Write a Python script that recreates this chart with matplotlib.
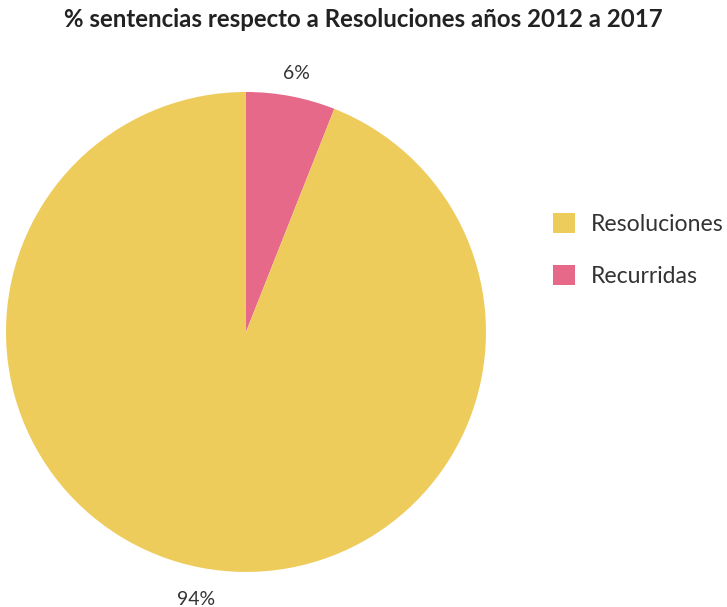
import matplotlib
matplotlib.use("Agg")
import matplotlib.pyplot as plt
from matplotlib.patches import Patch

plt.rcParams['font.family'] = ['Lato', 'DejaVu Sans']

categories = ["Resoluciones", "Recurridas"]
shares = [94, 6]
colors = ["#EECC5C", "#E6698A"]

fig = plt.figure(figsize=(7.27, 6.07), dpi=100)
fig.patch.set_facecolor("white")

ax = fig.add_axes([0.00825, 0.0577, 0.6602, 0.7908])
ax.set_aspect("equal")

# Recurridas first so it starts at 12 o'clock going clockwise
_, _, pct_texts = ax.pie(shares[::-1], colors=colors[::-1], startangle=90,
                         counterclock=False, autopct="%d%%", pctdistance=1.115,
                         radius=1, textprops=dict(color="#333333", fontsize=14),
                         wedgeprops=dict(linewidth=0))
for t in pct_texts:
    x, y = t.get_position()
    t.set_position((x, y - 0.02))
ax.set_xlim(-1, 1)
ax.set_ylim(-1, 1)

fig.text(0.5, 0.968, "% sentencias respecto a Resoluciones años 2012 a 2017",
         ha="center", va="center", fontsize=17.3, fontweight="bold", color="#222222")

handles = [Patch(facecolor=c, edgecolor="none") for c in colors]
fig.legend(handles, categories, loc="center left", bbox_to_anchor=(0.7326, 0.5885),
           frameon=False, fontsize=16.6, handlelength=0.96, handleheight=0.96,
           labelspacing=1.3, handletextpad=0.68, labelcolor="#333333")

fig.savefig("out.png", dpi=100)
